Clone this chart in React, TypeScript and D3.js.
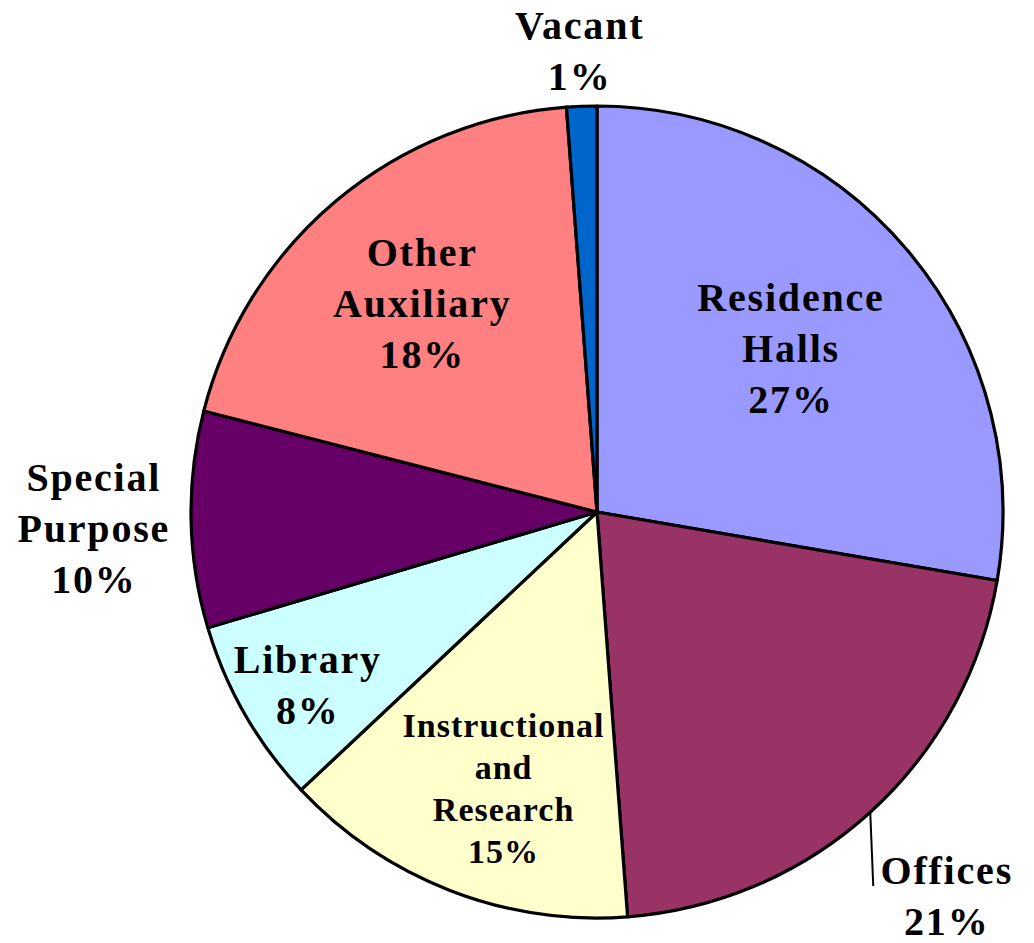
import React from 'react';
import * as d3 from 'd3';

// slice shares (geometry), and the printed labels
const categories = ['Residence Halls', 'Offices', 'Instructional and Research', 'Library', 'Special Purpose', 'Other Auxiliary', 'Vacant'];
const values = [27.7, 21.1, 14.2, 7.4, 8.6, 19.8, 1.2];
const percentLabels = ['27%', '21%', '15%', '8%', '10%', '18%', '1%'];
const labelLines = [
  ['Residence', 'Halls'],
  ['Offices'],
  ['Instructional', 'and', 'Research'],
  ['Library'],
  ['Special', 'Purpose'],
  ['Other', 'Auxiliary'],
  ['Vacant'],
];

const colors = ['#9999FF', '#993366', '#FFFFCC', '#CCFFFF', '#660066', '#FF8080', '#0066CC'];
// label distance from centre (fraction of radius) and a small angular nudge (degrees)
const labelRadius = [0.625, 1.28, 0.72, 0.83, 1.24, 0.67, 1.135];
const labelShift = [0, 0, -2.6, -1, -0.8, 0, 0];

const width = 1034;
const height = 943;
const cx = 597;
const cy = 512;
const radius = 406;

const App = () => {
  const pie = d3.pie<number>().sort(null).value(d => d);
  const arcs = pie(values);
  const arc = d3.arc<d3.PieArcDatum<number>>().innerRadius(0).outerRadius(radius);

  const polar = (a: number, r: number) => [Math.sin(a) * r, -Math.cos(a) * r];

  return (
    <svg width={width} height={height} style={{ position: 'absolute', left: 0, top: 0, background: '#fff' }}>
      <g transform={`translate(${cx},${cy})`}>
        {arcs.map((a, i) => (
          <path key={categories[i]} d={arc(a) || ''} fill={colors[i]} stroke="#000" strokeWidth={3.2} strokeLinejoin="round" />
        ))}
        {arcs.map((a, i) => {
          const mid = (a.startAngle + a.endAngle) / 2;
          const [lx, ly] = polar(mid + (labelShift[i] * Math.PI) / 180, labelRadius[i] * radius);
          const small = i === 2;
          const fs = small ? 34 : 40;
          const lh = small ? 42 : 51;
          const lines = [...labelLines[i], percentLabels[i]];
          const capH = fs * 0.66;
          const firstBase = ly + capH / 2 - ((lines.length - 1) * lh) / 2;
          let leader = null;
          if (i === 1) {
            const [sx, sy] = polar(mid, radius);
            leader = <line x1={sx} y1={sy} x2={sx + 3} y2={firstBase + 2} stroke="#000" strokeWidth={2} />;
          }
          return (
            <g key={'lbl' + i}>
              {leader}
              <text
                x={lx}
                textAnchor="middle"
                fontFamily="'Liberation Serif', 'Times New Roman', serif"
                fontWeight="bold"
                fontSize={fs}
                letterSpacing={small ? 1 : 1.8}
                fill="#000"
              >
                {lines.map((t, j) => (
                  <tspan key={j} x={lx} y={firstBase + j * lh}>
                    {t}
                  </tspan>
                ))}
              </text>
            </g>
          );
        })}
      </g>
    </svg>
  );
};

export default App;
